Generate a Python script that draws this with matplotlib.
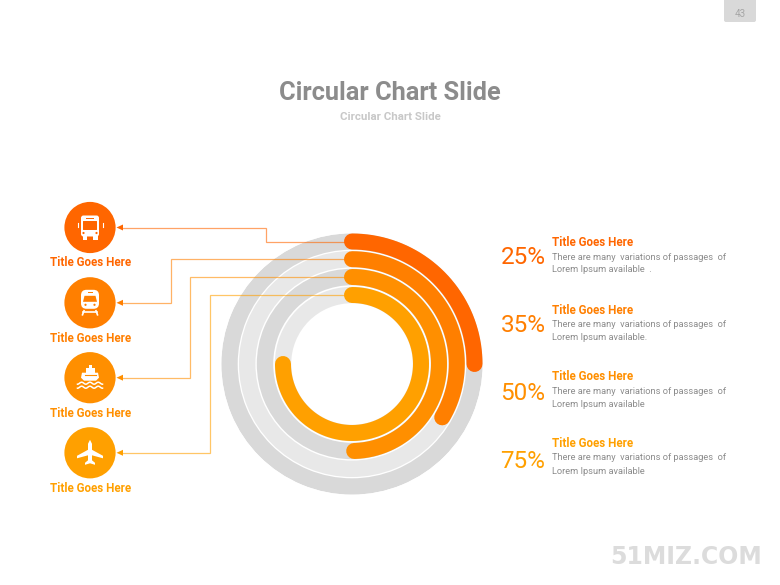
import numpy as np
import matplotlib
matplotlib.use("Agg")
import matplotlib.pyplot as plt
from matplotlib.patches import Circle, FancyBboxPatch, Polygon, Rectangle

arc_percents = [25, 33.5, 49.6, 75]
percent_labels = ["25%", "35%", "50%", "75%"]
ring_colors = ["#ff6600", "#ff7f00", "#ff8f00", "#ffa000"]
track_colors = ["#d9d9d9", "#e8e8e8", "#d9d9d9", "#e8e8e8"]
ring_radii = [122.5, 104.8, 87.0, 69.0]
title_label = "Title Goes Here"
body_first = ["There are many  variations of passages  of"] * 4
body_second = ["Lorem Ipsum available  .", "Lorem Ipsum available.",
               "Lorem Ipsum available", "Lorem Ipsum available"]
icon_y = [227.5, 302.8, 377.7, 452.8]
label_y = [262.7, 338, 413.7, 488.7]
stat_y = [257, 325, 393, 461.5]
head_y = [242.5, 310, 376.5, 443.5]
line1_y = [257, 324.5, 391.5, 458]
line2_y = [270, 338, 404.5, 471]

W, H = 780, 585
fig = plt.figure(figsize=(W / 100, H / 100), dpi=100, facecolor="white")
plt.rcParams["font.family"] = ["Roboto", "DejaVu Sans"]

# ---- rings in a polar axes
cx, cy, R = 352.0, 364.0, 130.7
pol = fig.add_axes([(cx - R) / W, (H - cy - R) / H, 2 * R / W, 2 * R / H],
                   projection="polar", zorder=1)
pol.set_theta_zero_location("N")
pol.set_theta_direction(-1)
pol.set_rlim(0, R)
pol.axis("off")
lw = 16 * 72 / 100
for r, tc in zip(ring_radii, track_colors):
    pol.bar(0, 16.4, width=2 * np.pi, bottom=r - 8.2, color=tc, linewidth=0, align="center")
for r, p, c in zip(ring_radii, arc_percents, ring_colors):
    t = np.linspace(0, 2 * np.pi * p / 100, 200)
    pol.plot(t, np.full_like(t, r), color=c, lw=lw, solid_capstyle="round", clip_on=False)

# ---- overlay in pixel coordinates
ax = fig.add_axes([0, 0, 1, 1], zorder=2)
ax.set_xlim(0, W)
ax.set_ylim(H, 0)
ax.axis("off")
ax.patch.set_alpha(0)

# connectors
elbow_x = [266, 171, 189.7, 210]
for i in range(4):
    y0 = cy - ring_radii[i]
    xs = [344, elbow_x[i], elbow_x[i], 122]
    ys = [y0, y0, icon_y[i], icon_y[i]]
    ax.plot(xs, ys, color=ring_colors[i], lw=0.9, alpha=0.6, solid_joinstyle="miter")
    ax.add_patch(Polygon([(116.5, icon_y[i]), (123, icon_y[i] - 3), (123, icon_y[i] + 3)],
                         closed=True, fc=ring_colors[i], ec="none"))

# icon discs and labels
for i in range(4):
    ax.add_patch(Circle((90, icon_y[i]), 25.6, fc=ring_colors[i], ec="none"))
    ax.text(90.5, label_y[i], title_label, ha="center", va="center", color=ring_colors[i],
            fontsize=8.4, fontweight="bold")

def rrect(x, y, w, h, r, fc):
    ax.add_patch(FancyBboxPatch((x + r, y + r), w - 2 * r, h - 2 * r,
                                boxstyle=f"round,pad={r}", fc=fc, ec="none"))

# bus
y = icon_y[0]
c = ring_colors[0]
rrect(81, y - 12, 18, 21, 2.5, "white")
rrect(83, y - 6.5, 14, 9, 0.5, c)
ax.add_patch(Rectangle((86, y - 10), 8, 1.5, fc=c, ec="none"))
ax.add_patch(Rectangle((82.5, y + 8), 4.5, 4, fc="white", ec="none"))
ax.add_patch(Rectangle((93, y + 8), 4.5, 4, fc="white", ec="none"))
ax.add_patch(Circle((83.5, y + 5.5), 1.1, fc=c, ec="none"))
ax.add_patch(Circle((96.5, y + 5.5), 1.1, fc=c, ec="none"))
ax.plot([77.5, 77.5], [y - 5, y - 1], color="white", lw=0.8)
ax.plot([102.5, 102.5], [y - 5, y - 1], color="white", lw=0.8)

# train
y = icon_y[1]
c = ring_colors[1]
rrect(81, y - 13, 18, 19, 5.5, "white")
ax.add_patch(Polygon([(84.5, y - 7), (95.5, y - 7), (97, y - 1), (83, y - 1)], closed=True, fc=c, ec="none"))
ax.add_patch(Rectangle((87.5, y - 11), 5, 1.3, fc=c, ec="none"))
ax.add_patch(Circle((85.5, y + 2), 1.1, fc=c, ec="none"))
ax.add_patch(Circle((94.5, y + 2), 1.1, fc=c, ec="none"))
ax.plot([84, 82.5], [y + 8, y + 12], color="white", lw=1.2)
ax.plot([96, 97.5], [y + 8, y + 12], color="white", lw=1.2)
ax.plot([83, 97], [y + 9.5, y + 9.5], color="white", lw=1.2)

# ship
y = icon_y[2]
c = ring_colors[2]
ax.add_patch(Polygon([(85.5, y - 5), (85.5, y - 10), (94.5, y - 10), (94.5, y - 5)], closed=True, fc="white", ec="none"))
ax.add_patch(Rectangle((88.5, y - 13), 3, 3, fc="white", ec="none"))
ax.add_patch(Polygon([(82, y - 5), (98, y - 5), (99, y), (96, y + 3), (84, y + 3), (81, y)], closed=True, fc="white", ec="none"))
ax.plot([84.5, 95.5], [y - 2.5, y - 2.5], color=c, lw=0.8)
xs_w = np.linspace(77.5, 102.5, 60)
for dy in (5.5, 9.5):
    ax.plot(xs_w, y + dy + 1.0 * np.cos((xs_w - 77.5) * 2 * np.pi / 8.3), color="white", lw=1.1)

# plane
y = icon_y[3]
ax.add_patch(Polygon([(90, y - 13), (92, y - 9), (92, y - 3), (103, y + 3), (103, y + 5.5),
                      (92, y + 2.5), (92, y + 7.5), (95, y + 10), (95, y + 12), (90, y + 10.5),
                      (85, y + 12), (85, y + 10), (88, y + 7.5), (88, y + 2.5), (77, y + 5.5),
                      (77, y + 3), (88, y - 3), (88, y - 9)], closed=True, fc="white", ec="none"))

# right column
for i in range(4):
    ax.text(523, stat_y[i], percent_labels[i], ha="center", va="center", color=ring_colors[i],
            fontsize=17.5, fontweight="normal")
    ax.text(552, head_y[i], title_label, ha="left", va="center", color=ring_colors[i],
            fontsize=8.4, fontweight="bold")
    ax.text(552, line1_y[i], body_first[i], ha="left", va="center", color="#8c8c8c", fontsize=6.7)
    ax.text(552, line2_y[i], body_second[i], ha="left", va="center", color="#8c8c8c", fontsize=6.7)

# title
ax.text(390, 93, "Circular Chart Slide", ha="center", va="center", color="#8c8c8c",
        fontsize=18.3, fontweight="bold")
ax.text(390, 116.5, "Circular Chart Slide", ha="center", va="center", color="#c8c8c8",
        fontsize=8.25, fontweight="bold")

# page tag
ax.add_patch(FancyBboxPatch((726, -6), 28, 26, boxstyle="round,pad=2", fc="#d9d9d9", ec="none", clip_on=True))
ax.text(740, 14, "43", ha="center", va="center", color="#a6a6a6", fontsize=7)

# watermark
ax.text(686.5, 557.5, "51MIZ.COM", ha="center", va="center", color="#dcdcdc",
        fontsize=17, fontweight="bold", family="DejaVu Sans")

fig.savefig("out.png", dpi=100, facecolor="white")
